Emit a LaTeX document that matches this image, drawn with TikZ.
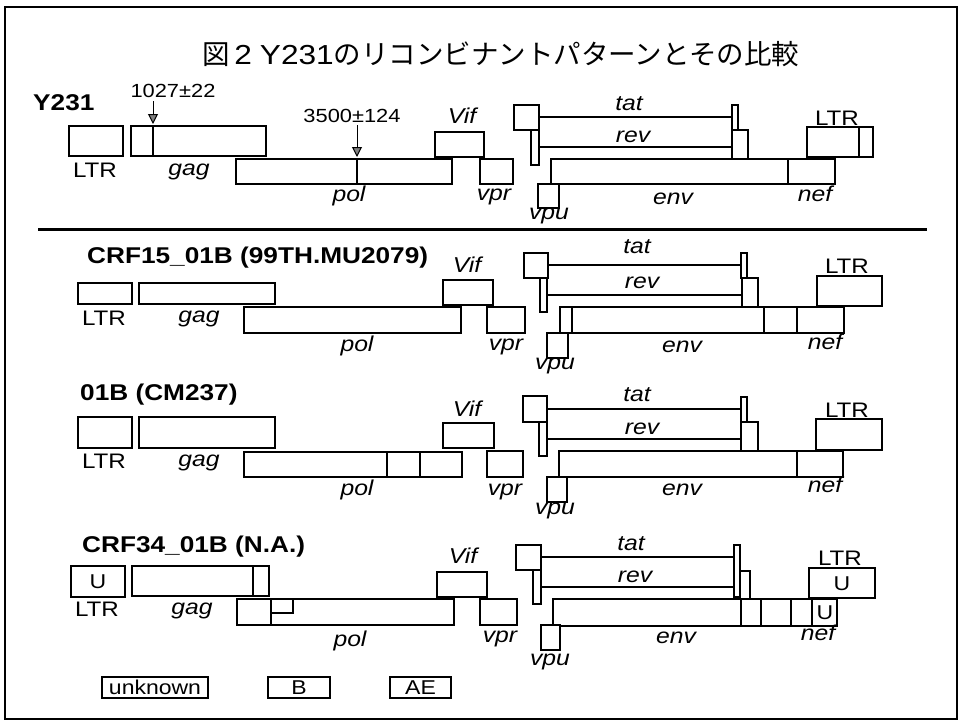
\documentclass[tikz,border=0pt]{standalone}
\usepackage{fontspec}
\setmainfont[FakeStretch=1.15]{Liberation Sans}
\newfontfamily\cjk{Noto Sans CJK JP}
\usetikzlibrary{arrows.meta}

\begin{document}
\begin{tikzpicture}[
    x=1pt, y=-1pt,
    genebox/.style={draw, fill=white, line width=1.2pt},
    exonline/.style={line width=2pt},
    divline/.style={line width=1.2pt},
    genelbl/.style={anchor=base, inner sep=0pt, font=\fontsize{21.5}{24}\selectfont\itshape},
    ltrlbl/.style={anchor=base, inner sep=0pt, font=\fontsize{21}{24}\selectfont},
    rowlbl/.style={anchor=base west, inner sep=0pt, font=\fontsize{22.8}{26}\selectfont\bfseries},
    poslbl/.style={anchor=base, inner sep=0pt, font=\fontsize{19}{22}\selectfont},
    ulbl/.style={inner sep=0pt, font=\fontsize{20}{22}\selectfont},
    brkarrow/.style={-{Triangle[length=10pt, width=10pt, fill=gray]}, line width=1pt},
    keybox/.style={draw, line width=1.2pt, inner sep=0pt, minimum height=21pt, font=\fontsize{20}{22}\selectfont},
]
    \useasboundingbox (0,0) rectangle (962,723);
    \draw[line width=1.5pt] (5,7) rectangle (957,719);

    % Title
    \node[anchor=base, inner sep=0pt, font=\fontsize{27.5}{30}\selectfont] (title) at (501,64)
        {{\cjk 図}\hspace{4pt}2\hspace{8pt}Y231{\cjk のリコンビナントパターンとその比較}};

    % Y231
    \node[rowlbl] (rowA) at (33,110) {Y231};
    \draw[genebox] (69,126) rectangle (123,156);
    \node[ltrlbl] (ltrA) at (95,177) {LTR};
    \draw[genebox] (131,126) rectangle (266,156);
    \draw[divline] (153,126) -- (153,156);
    \node[genelbl] (gagA) at (189,175) {gag};
    \draw[genebox] (236,159) rectangle (452,184);
    \draw[divline] (357,159) -- (357,184);
    \node[genelbl] (polA) at (349,201) {pol};
    \draw[genebox] (435,132) rectangle (484,157);
    \node[genelbl] (vifA) at (462,123) {Vif};
    \draw[genebox] (480,159) rectangle (513,184);
    \node[genelbl] (vprA) at (494,200) {vpr};
    \draw[genebox] (514,105) rectangle (539,130);
    \draw[genebox] (531,130) rectangle (539,165);
    \draw[exonline] (539,117) -- (732,117);
    \draw[exonline] (539,147) -- (732,147);
    \draw[genebox] (732,105) rectangle (738,130);
    \draw[genebox] (732,130) rectangle (748,159);
    \node[genelbl] (tatA) at (629,110) {tat};
    \node[genelbl] (revA) at (633,142) {rev};
    \draw[genebox] (551,159) rectangle (835,184);
    \draw[divline] (788,159) -- (788,184);
    \draw[genebox] (538,184) rectangle (559,208);
    \node[genelbl] (vpuA) at (549,219) {vpu};
    \node[genelbl] (envA) at (673,204) {env};
    \node[genelbl] (nefA) at (815,201) {nef};
    \draw[genebox] (807,127) rectangle (873,157);
    \draw[divline] (859,127) -- (859,157);
    \node[ltrlbl] (ltrAr) at (837,125) {LTR};

    % breakpoints
    \node[poslbl] (bpA) at (173,97) {1027±22};
    \coordinate (bpAtip) at (153,124);
    \draw[brkarrow] ([yshift=-4pt]bpA.south -| bpAtip) -- (bpAtip);
    \node[poslbl] (bpB) at (352,122) {3500±124};
    \coordinate (bpBtip) at (357,157);
    \draw[brkarrow] ([yshift=-3pt]bpB.south -| bpBtip) -- (bpBtip);

    \draw[line width=3pt] (38,229) -- (927,229);

    % CRF15_01B
    \node[rowlbl] (rowB) at (87,263) {CRF15\_01B (99TH.MU2079)};
    \draw[genebox] (78,283) rectangle (132,304);
    \node[ltrlbl] (ltrB) at (104,325) {LTR};
    \draw[genebox] (139,283) rectangle (275,304);
    \node[genelbl] (gagB) at (199,322) {gag};
    \draw[genebox] (244,307) rectangle (461,333);
    \node[genelbl] (polB) at (357,351) {pol};
    \draw[genebox] (443,280) rectangle (493,305);
    \node[genelbl] (vifB) at (467,272) {Vif};
    \draw[genebox] (487,307) rectangle (525,333);
    \node[genelbl] (vprB) at (506,350) {vpr};
    \draw[genebox] (524,253) rectangle (548,278);
    \draw[genebox] (540,278) rectangle (547,312);
    \draw[exonline] (548,265) -- (741,265);
    \draw[exonline] (547,295) -- (741,295);
    \draw[genebox] (741,253) rectangle (747,278);
    \draw[genebox] (742,278) rectangle (758,307);
    \node[genelbl] (tatB) at (637,253) {tat};
    \node[genelbl] (revB) at (642,288) {rev};
    \draw[genebox] (560,307) rectangle (844,333);
    \draw[divline] (572,307) -- (572,333);
    \draw[divline] (764,307) -- (764,333);
    \draw[line width=2pt] (797,307) -- (797,333);
    \draw[genebox] (547,333) rectangle (568,358);
    \node[genelbl] (vpuB) at (555,369) {vpu};
    \node[genelbl] (envB) at (682,352) {env};
    \node[genelbl] (nefB) at (825,349) {nef};
    \draw[genebox] (817,276) rectangle (882,306);
    \node[ltrlbl] (ltrBr) at (847,273) {LTR};

    % 01B
    \node[rowlbl] (rowC) at (80,400) {01B (CM237)};
    \draw[genebox] (78,417) rectangle (132,448);
    \node[ltrlbl] (ltrC) at (104,468) {LTR};
    \draw[genebox] (139,417) rectangle (275,448);
    \node[genelbl] (gagC) at (199,466) {gag};
    \draw[genebox] (244,452) rectangle (462,477);
    \draw[divline] (387,452) -- (387,477);
    \draw[divline] (420,452) -- (420,477);
    \node[genelbl] (polC) at (357,495) {pol};
    \draw[genebox] (443,423) rectangle (494,448);
    \node[genelbl] (vifC) at (467,416) {Vif};
    \draw[genebox] (487,451) rectangle (523,477);
    \node[genelbl] (vprC) at (505,495) {vpr};
    \draw[genebox] (523,396) rectangle (547,422);
    \draw[genebox] (539,422) rectangle (547,456);
    \draw[exonline] (547,409) -- (741,409);
    \draw[exonline] (547,439) -- (741,439);
    \draw[genebox] (741,397) rectangle (747,422);
    \draw[genebox] (741,422) rectangle (758,451);
    \node[genelbl] (tatC) at (637,401) {tat};
    \node[genelbl] (revC) at (642,434) {rev};
    \draw[genebox] (559,451) rectangle (843,477);
    \draw[line width=2pt] (797,451) -- (797,477);
    \draw[genebox] (547,477) rectangle (567,502);
    \node[genelbl] (vpuC) at (555,514) {vpu};
    \node[genelbl] (envC) at (682,495) {env};
    \node[genelbl] (nefC) at (825,492) {nef};
    \draw[genebox] (816,419) rectangle (882,450);
    \node[ltrlbl] (ltrCr) at (847,417) {LTR};

    % CRF34_01B
    \node[rowlbl] (rowD) at (82,552) {CRF34\_01B (N.A.)};
    \draw[genebox] (71,566) rectangle (125,597);
    \node[ulbl] (uD1) at (98,582) {U};
    \node[ltrlbl] (ltrD) at (97,616) {LTR};
    \draw[genebox] (132,566) rectangle (269,596);
    \draw[divline] (253,566) -- (253,596);
    \node[genelbl] (gagD) at (192,614) {gag};
    \draw[genebox] (237,599) rectangle (454,625);
    \draw[genebox, line width=2pt] (237,599) rectangle (271,625);
    \draw[genebox] (271,599) rectangle (293,613);
    \node[genelbl] (polD) at (350,646) {pol};
    \draw[genebox] (437,572) rectangle (487,597);
    \node[genelbl] (vifD) at (463,563) {Vif};
    \draw[genebox] (480,599) rectangle (517,625);
    \node[genelbl] (vprD) at (500,642) {vpr};
    \draw[genebox] (516,545) rectangle (541,570);
    \draw[genebox] (533,570) rectangle (541,604);
    \draw[exonline] (541,557) -- (734,557);
    \draw[exonline] (541,587) -- (734,587);
    \draw[genebox] (734,571) rectangle (750,599);
    \draw[genebox] (734,545) rectangle (740,597);
    \node[genelbl] (tatD) at (631,550) {tat};
    \node[genelbl] (revD) at (635,582) {rev};
    \draw[genebox] (553,599) rectangle (837,626);
    \foreach \xd in {741,761,791,812}
        \draw[divline] (\xd,599) -- (\xd,626);
    \node[ulbl] (uD2) at (825,613) {U};
    \draw[genebox] (541,625) rectangle (560,650);
    \node[genelbl] (vpuD) at (550,665) {vpu};
    \node[genelbl] (envD) at (676,643) {env};
    \node[genelbl] (nefD) at (818,640) {nef};
    \draw[genebox] (809,568) rectangle (875,598);
    \node[ulbl] (uD3) at (842,584) {U};
    \node[ltrlbl] (ltrDr) at (840,565) {LTR};

    % key
    \node[keybox, minimum width=106pt] (keyU) at (155,687.5) {unknown};
    \node[keybox, minimum width=62pt] (keyB) at (299,687.5) {B};
    \node[keybox, minimum width=61pt] (keyAE) at (420.5,687.5) {AE};
\end{tikzpicture}
\end{document}
